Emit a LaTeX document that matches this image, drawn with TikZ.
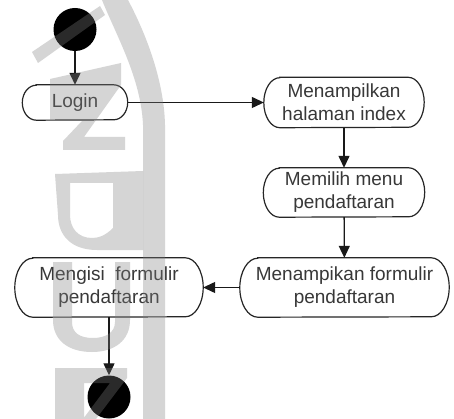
\documentclass[tikz,border=0pt]{standalone}
\usepackage{fontspec}
\setmainfont{Liberation Sans}
\usetikzlibrary{arrows.meta,calc}

% outline of an activity: straight top and bottom, half-ellipse ends
% #1 node name, #2 horizontal radius of the ends, #3 half height
\newcommand\actoutline[3]{%
  \draw[edgeline] ($(#1.north west)+(#2pt,0pt)$) -- ($(#1.north east)+(-#2pt,0pt)$)
    arc[start angle=90,end angle=-90,x radius=#2pt,y radius=#3pt]
    -- ($(#1.south west)+(#2pt,0pt)$)
    arc[start angle=-90,end angle=-270,x radius=#2pt,y radius=#3pt] -- cycle;}

\begin{document}
\begin{tikzpicture}[x=1pt,y=-1pt,
  act/.style={rectangle, inner sep=0pt, text=black!78, align=center,
    font=\fontsize{19}{23}\selectfont},
  pin/.style={circle, fill=black, inner sep=0pt, minimum size=43pt},
  flow/.style={line width=1.3pt, draw=black!90, -{Triangle[length=12pt,width=11pt]}},
  edgeline/.style={line width=1.2pt, draw=black!85},
  stamp/.style={fill=black!50, fill opacity=0.33}
]
\useasboundingbox (0,0) rectangle (454,419);
\fill[white] (0,0) rectangle (454,419);

% start and end states
\node[pin] (start) at (75,29.5) {};
\node[pin] (end) at (109,397) {};

% activities
\node[act, minimum width=105pt, minimum height=35pt] (login) at (75,102.5) {Login};
\node[act, minimum width=160pt, minimum height=50pt] (index) at (344,102.5) {Menampilkan\\halaman index};
\node[act, minimum width=161pt, minimum height=49pt] (menu) at (344,192.5) {Memilih menu\\pendaftaran};
\node[act, minimum width=209pt, minimum height=59pt] (form) at (344.5,287.5) {Menampikan formulir\\pendaftaran};
\node[act, minimum width=188pt, minimum height=59pt] (fill) at (109,287.5) {Mengisi\ \ formulir\\pendaftaran};

\actoutline{login}{14}{17.5}
\actoutline{index}{16}{25}
\actoutline{menu}{16}{24.5}
\actoutline{form}{18}{29.5}
\actoutline{fill}{18}{29.5}

% control flow
\draw[flow] (start) -- (login);
\draw[flow] (login) -- (index);
\draw[flow] (index) -- (menu);
\draw[flow] (menu) -- (form);
\draw[flow] (form) -- (fill);
\draw[flow] (fill) -- (end);

% light logo stamped over the sheet
\fill[stamp] (102,0) .. controls (116,35) and (141,78) .. (143,125) -- (143,419)
  -- (165,419) -- (165,125) .. controls (164,78) and (144,30) .. (128,0) -- cycle;
\fill[stamp] (32,52) -- (100,6) -- (105,15) -- (38,63) -- cycle;
\fill[stamp] (50,79) -- (121,63) -- (121,85) -- (84,137) -- (125,137) -- (125,150)
  -- (63,150) -- (63,141) -- (82,121) -- (50,121) -- cycle;
\fill[stamp, even odd rule] (55,174) -- (143,171) -- (143,250) -- (97,250)
  .. controls (72,250) and (58,236) .. (58,215) -- cycle
  (70,183) -- (113,183) -- (113,228) .. controls (105,236) and (98,238) .. (92,238)
  .. controls (78,238) and (70,228) .. (70,215) -- cycle;
\fill[stamp] (53,262) -- (72,262) -- (72,322) .. controls (72,333) and (80,338) .. (93,338)
  .. controls (105,338) and (115,333) .. (115,322) -- (115,262) -- (130,262) -- (130,320)
  .. controls (130,340) and (115,352) .. (92,352) .. controls (68,352) and (53,340) .. (53,320) -- cycle;
\fill[stamp] (55,368) -- (127,368) -- (127,378) -- (96,419) -- (83,419) -- (110,383)
  -- (84,383) -- (84,419) -- (55,419) -- cycle;
\end{tikzpicture}
\end{document}
